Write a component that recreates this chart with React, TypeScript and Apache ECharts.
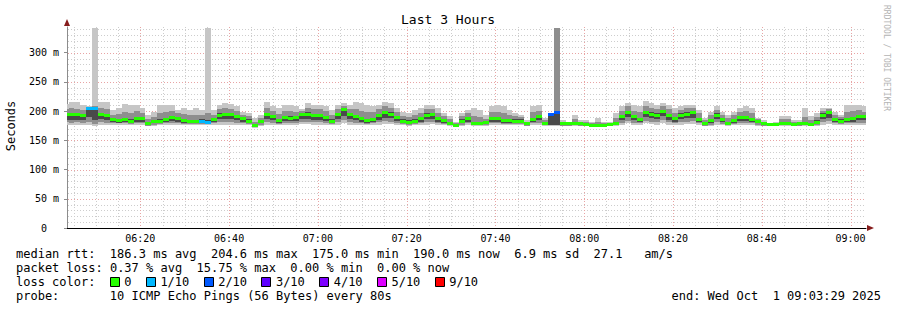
import React, { useEffect, useRef } from 'react';
import * as echarts from 'echarts';

// ---------- data ----------
const TITLE = 'Last 3 Hours';
const START_MIN_OF_DAY = 6 * 60 + 3 + 29 / 60; // 06:03:29
const SPAN_MINUTES = 180;
const STEP_MINUTES = 80 / 60; // 80 s steps
const STEP_PHASE = -0.74; // first step starts before the window
const Y_MAX = 344;

const xTickLabels = ['06:20', '06:40', '07:00', '07:20', '07:40', '08:00', '08:20', '08:40', '09:00'];
const yTickValues = [0, 50, 100, 150, 200, 250, 300];

const median = [
  195, 195, 194, 193, 204, 204, 195, 192, 185, 184, 186, 183, 187, 187, 178, 182, 182, 185, 189, 187, 184, 182, 182, 183, 181,
  185, 193, 194, 194, 191, 187, 183, 175, 182, 194, 190, 184, 189, 188, 189, 194, 195, 192, 192, 189, 183, 194, 202, 194, 190,
  187, 184, 186, 192, 197, 195, 189, 183, 181, 183, 187, 193, 194, 187, 184, 179, 175, 183, 187, 179, 179, 180, 187, 187, 184,
  184, 183, 183, 178, 186, 190, 179, 194, 197, 178, 178, 179, 178, 177, 176, 176, 176, 177, 179, 190, 198, 190, 186, 198, 195,
  193, 199, 192, 187, 193, 195, 197, 186, 178, 184, 193, 185, 179, 184, 189, 189, 186, 182, 178, 177, 177, 179, 179, 177, 178,
  179, 177, 181, 193, 197, 186, 183, 186, 187, 190, 190,
];
// loss in tenths of the 10 pings
const loss = [
  0, 0, 0, 0, 1, 1, 0, 0, 0, 0, 0, 0, 0, 0, 0, 0, 0, 0, 0, 0, 0, 0, 0, 1, 1,
  0, 0, 0, 0, 0, 0, 0, 0, 0, 0, 0, 0, 0, 0, 0, 0, 0, 0, 0, 0, 0, 0, 0, 0, 0,
  0, 0, 0, 0, 0, 0, 0, 0, 0, 0, 0, 0, 0, 0, 0, 0, 0, 0, 0, 0, 0, 0, 0, 0, 0,
  0, 0, 0, 0, 0, 0, 0, 2, 2, 0, 0, 0, 0, 0, 0, 0, 0, 0, 0, 0, 0, 0, 0, 0, 0,
  0, 0, 0, 0, 0, 0, 0, 0, 0, 0, 0, 0, 0, 0, 0, 0, 0, 0, 0, 0, 0, 0, 0, 0, 0,
  0, 0, 0, 0, 0, 0, 0, 0, 0, 0, 0,
];
const pingMin = [
  177, 176, 177, 176, 177, 175, 177, 176, 176, 176, 176, 176, 177, 177, 174, 175, 176, 176, 177, 177, 176, 176, 176, 177, 176,
  176, 177, 177, 177, 177, 176, 176, 172, 175, 177, 177, 176, 177, 177, 177, 178, 178, 177, 177, 177, 176, 177, 179, 177, 177,
  176, 176, 176, 177, 178, 178, 177, 176, 175, 176, 176, 177, 178, 177, 176, 174, 173, 175, 176, 175, 175, 175, 176, 176, 176,
  176, 176, 176, 174, 176, 177, 175, 175, 175, 174, 174, 175, 174, 174, 174, 174, 174, 174, 175, 177, 179, 177, 176, 179, 178,
  177, 179, 177, 177, 177, 178, 178, 176, 174, 175, 177, 176, 175, 176, 177, 177, 176, 175, 174, 174, 174, 175, 175, 174, 174,
  175, 174, 175, 177, 178, 176, 176, 176, 176, 177, 176,
];
const pingMax = [
  212, 216, 215, 211, 208, 343, 216, 215, 202, 205, 212, 211, 211, 205, 194, 199, 211, 211, 211, 202, 205, 202, 205, 202, 343,
  202, 211, 214, 212, 208, 199, 197, 188, 194, 215, 208, 205, 211, 211, 208, 204, 214, 211, 211, 208, 202, 211, 214, 211, 215,
  214, 211, 208, 211, 215, 214, 205, 199, 197, 202, 205, 211, 211, 205, 197, 191, 182, 197, 202, 205, 202, 194, 208, 211, 208,
  202, 197, 194, 185, 208, 211, 188, 197, 343, 185, 180, 194, 185, 185, 182, 188, 182, 182, 197, 208, 214, 211, 208, 217, 214,
  211, 214, 211, 205, 208, 211, 211, 202, 188, 199, 208, 199, 194, 199, 205, 208, 205, 188, 185, 180, 182, 191, 191, 185, 185,
  205, 191, 197, 205, 206, 199, 194, 210, 211, 211, 208,
];
const midLow = [
  181, 180, 181, 180, 181, 178, 181, 180, 179, 179, 179, 178, 180, 180, 175, 177, 178, 179, 180, 180, 178, 178, 178, 178, 178,
  179, 181, 182, 181, 180, 179, 178, 173, 177, 181, 180, 178, 180, 180, 180, 182, 182, 181, 181, 180, 178, 181, 184, 181, 180,
  179, 178, 179, 181, 183, 182, 180, 178, 177, 178, 179, 181, 182, 180, 178, 176, 174, 177, 179, 176, 176, 177, 179, 179, 178,
  178, 178, 178, 175, 179, 180, 176, 176, 176, 175, 175, 176, 175, 175, 175, 175, 175, 175, 176, 180, 183, 180, 179, 183, 182,
  181, 184, 181, 180, 181, 182, 183, 179, 175, 177, 181, 178, 176, 178, 180, 180, 179, 177, 175, 175, 175, 176, 176, 175, 175,
  176, 175, 177, 181, 183, 179, 178, 179, 179, 180, 179,
];
const midHigh = [
  204, 205, 204, 202, 206, 208, 206, 204, 194, 195, 198, 196, 200, 197, 186, 190, 196, 198, 201, 196, 195, 193, 194, 194, 196,
  194, 203, 205, 204, 200, 194, 191, 182, 189, 205, 200, 195, 201, 200, 199, 201, 206, 203, 203, 200, 194, 204, 209, 204, 203,
  201, 198, 198, 203, 208, 206, 199, 192, 190, 193, 197, 203, 204, 197, 192, 186, 179, 191, 196, 191, 190, 187, 198, 199, 196,
  194, 191, 190, 182, 198, 201, 185, 196, 343, 182, 179, 187, 182, 181, 180, 182, 180, 180, 189, 200, 208, 201, 198, 209, 206,
  203, 208, 203, 197, 202, 205, 206, 196, 184, 193, 202, 193, 188, 193, 199, 200, 197, 186, 182, 179, 180, 186, 186, 181, 182,
  190, 184, 190, 201, 204, 194, 190, 199, 200, 202, 198,
];
const coreLow = [
  185, 184, 185, 184, 190, 184, 186, 184, 181, 180, 181, 180, 182, 182, 176, 179, 179, 181, 183, 182, 180, 179, 179, 180, 179,
  181, 186, 187, 186, 184, 182, 180, 174, 179, 186, 184, 180, 183, 183, 183, 186, 187, 185, 185, 183, 180, 186, 192, 186, 184,
  182, 180, 181, 185, 189, 188, 183, 180, 178, 180, 182, 186, 186, 182, 180, 177, 174, 179, 182, 177, 177, 178, 182, 182, 180,
  180, 180, 180, 176, 181, 184, 177, 176, 176, 176, 176, 177, 176, 175, 175, 175, 175, 175, 177, 184, 190, 184, 181, 190, 188,
  186, 191, 185, 182, 186, 188, 189, 181, 176, 180, 186, 181, 177, 180, 183, 183, 181, 179, 176, 175, 175, 177, 177, 175, 176,
  177, 175, 178, 186, 189, 181, 180, 181, 182, 184, 184,
];
const coreHigh = [
  197, 197, 196, 195, 205, 205, 197, 195, 188, 187, 189, 186, 190, 190, 181, 185, 186, 188, 192, 190, 187, 185, 185, 186, 184,
  188, 196, 197, 196, 193, 190, 186, 178, 185, 197, 193, 187, 192, 191, 192, 197, 198, 195, 195, 192, 186, 197, 204, 197, 193,
  190, 187, 189, 195, 200, 198, 192, 186, 184, 186, 190, 196, 197, 190, 187, 182, 177, 186, 190, 182, 182, 183, 190, 190, 187,
  187, 186, 186, 180, 189, 193, 182, 194, 197, 180, 179, 182, 180, 179, 178, 178, 178, 179, 182, 193, 201, 193, 189, 201, 198,
  196, 202, 195, 190, 196, 198, 200, 189, 181, 187, 196, 188, 182, 187, 192, 192, 189, 185, 180, 179, 179, 182, 182, 179, 180,
  182, 179, 184, 196, 200, 189, 186, 189, 190, 193, 193,
];

const lossLegend = [
  { tenths: 0, label: '0', color: '#26ff00' },
  { tenths: 1, label: '1/10', color: '#00b8ff' },
  { tenths: 2, label: '2/10', color: '#0059ff' },
  { tenths: 3, label: '3/10', color: '#5e00ff' },
  { tenths: 4, label: '4/10', color: '#7e00ff' },
  { tenths: 5, label: '5/10', color: '#dd00ff' },
  { tenths: 9, label: '9/10', color: '#ff0000' },
];

const statsLine = 'median rtt:  186.3 ms avg  204.6 ms max  175.0 ms min  190.0 ms now  6.9 ms sd  27.1   am/s';
const lossLine = 'packet loss: 0.37 % avg  15.75 % max  0.00 % min  0.00 % now';
const probeLine = 'probe:       10 ICMP Echo Pings (56 Bytes) every 80s';
const endText = 'end: Wed Oct  1 09:03:29 2025';
const watermark = 'RRDTOOL / TOBI OETIKER';

// ---------- styling ----------
const MONO = '"DejaVu Sans Mono", "Liberation Mono", monospace';
const CHAR_W = 7.22;
const TEXT_X = 16;
const SMOKE_OUTER = '#c6c6c6';
const SMOKE_MID = '#8e8e8e';
const SMOKE_CORE = '#4a4a4a';
const GRID_MINOR = '#cdcdcd';
const GRID_MAJOR = '#e8a4a4';
const ARROW = '#861c1c';

const toRel = (hhmm: string) => {
  const [h, m] = hhmm.split(':').map(Number);
  return h * 60 + m - START_MIN_OF_DAY;
};
const xTickPos = xTickLabels.map(toRel);

function lossColor(t: number) {
  let c = lossLegend[0].color;
  for (const e of lossLegend) if (t >= e.tenths) c = e.color;
  return c;
}

function chunks(line: string) {
  const out: { col: number; text: string }[] = [];
  const re = /\S+(?: \S+)*/g;
  let m: RegExpExecArray | null;
  while ((m = re.exec(line))) out.push({ col: m.index, text: m[0] });
  return out;
}

function textLine(line: string, y: number) {
  return chunks(line).map((c) => ({
    type: 'text',
    x: TEXT_X + c.col * CHAR_W,
    y,
    silent: true,
    style: { text: c.text, font: `12px ${MONO}`, fill: '#000', textVerticalAlign: 'middle' },
  }));
}

export default function App() {
  const ref = useRef<HTMLDivElement>(null);
  useEffect(() => {
    if (!ref.current) return;
    const chart = echarts.init(ref.current, undefined, { renderer: 'svg' });

    const smokeData = median.map((m, i) => [
      (i + STEP_PHASE) * STEP_MINUTES,
      (i + 1 + STEP_PHASE) * STEP_MINUTES,
      pingMin[i], midLow[i], coreLow[i], coreHigh[i], midHigh[i], pingMax[i], m, loss[i],
    ]);

    const hLines: number[][] = [];
    for (let v = 10; v < Y_MAX; v += 10) hLines.push([0, v]);
    const vLines: number[][] = [];
    const firstFive = Math.ceil(START_MIN_OF_DAY / 5) * 5;
    for (let t = firstFive; t < START_MIN_OF_DAY + SPAN_MINUTES; t += 5) vLines.push([t - START_MIN_OF_DAY, t]);

    const legendY = [254, 268, 282, 296];
    const graphic: any[] = [
      { type: 'text', x: 448, y: 19, silent: true, style: { text: TITLE, font: `13px ${MONO}`, fill: '#000', textAlign: 'center', textVerticalAlign: 'middle' } },
      { type: 'text', x: 11, y: 126, rotation: Math.PI / 2, silent: true, style: { text: 'Seconds', font: `12px ${MONO}`, fill: '#000', textAlign: 'center', textVerticalAlign: 'middle' } },
      { type: 'text', x: 886, y: 5, rotation: -Math.PI / 2, silent: true, style: { text: watermark, font: `8px ${MONO}`, fill: '#b4b4b4', textAlign: 'left', textVerticalAlign: 'middle' } },
      { type: 'line', silent: true, shape: { x1: 65, y1: 228.5, x2: 67, y2: 228.5 }, style: { stroke: '#000', lineWidth: 1 } },
      { type: 'polygon', silent: true, shape: { points: [[64, 26], [70, 26], [67, 19]] }, style: { fill: ARROW } },
      { type: 'polygon', silent: true, shape: { points: [[867, 225], [867, 231], [874, 228]] }, style: { fill: ARROW } },
      ...textLine(statsLine, legendY[0]),
      ...textLine(lossLine, legendY[1]),
      ...textLine('loss color:', legendY[2]),
      ...textLine(probeLine, legendY[3]),
      { type: 'text', x: 881, y: legendY[3], silent: true, style: { text: endText.replace('  ', '\u00a0\u00a0'), font: `12px ${MONO}`, fill: '#000', textAlign: 'right', textVerticalAlign: 'middle' } },
    ];
    let col = 13;
    lossLegend.forEach((e) => {
      const x = TEXT_X + col * CHAR_W;
      graphic.push({ type: 'rect', silent: true, shape: { x: Math.round(x) + 0.5, y: legendY[2] - 4.5, width: 9, height: 9 }, style: { fill: e.color, stroke: '#000', lineWidth: 1 } });
      graphic.push({ type: 'text', x: TEXT_X + (col + 2) * CHAR_W, y: legendY[2], silent: true, style: { text: e.label, font: `12px ${MONO}`, fill: '#000', textVerticalAlign: 'middle' } });
      col += 2 + e.label.length + 2;
    });

    const option: any = {
      animation: false,
      backgroundColor: '#ffffff',
      grid: { left: 67, right: 31, top: 27, bottom: 82, containLabel: false },
      xAxis: {
        type: 'value', min: 0, max: SPAN_MINUTES,
        axisLine: { show: true, lineStyle: { color: '#000', width: 1 } },
        axisTick: { show: false },
        splitLine: { show: false },
        axisLabel: {
          customValues: xTickPos,
          formatter: (v: number) => {
            let best = 0;
            xTickPos.forEach((p, i) => { if (Math.abs(p - v) < Math.abs(xTickPos[best] - v)) best = i; });
            return xTickLabels[best];
          },
          fontFamily: MONO, fontSize: 10, color: '#000', margin: 5,
        },
      },
      yAxis: {
        type: 'value', min: 0, max: Y_MAX,
        axisLine: { show: true, lineStyle: { color: '#8c8c8c', width: 1 } },
        axisTick: { show: true, customValues: yTickValues, length: 3, lineStyle: { color: '#8c8c8c' } },
        splitLine: { show: false },
        axisLabel: {
          customValues: yTickValues,
          formatter: (v: number) => (v === 0 ? '{z|0}' : `${v} m`),
          rich: { z: { padding: [0, 12, 0, 0], fontFamily: MONO, fontSize: 10, color: '#000' } },
          fontFamily: MONO, fontSize: 10, color: '#000', margin: 8,
        },
      },
      series: [
        {
          type: 'custom', silent: true, z: 1,
          data: hLines,
          renderItem: (params: any, api: any) => {
            const v = api.value(1);
            const cs = params.coordSys;
            const y = Math.round(api.coord([0, v])[1]) + 0.5;
            return { type: 'line', shape: { x1: cs.x + 1, y1: y, x2: cs.x + cs.width, y2: y }, style: { stroke: v % 50 === 0 ? GRID_MAJOR : GRID_MINOR, lineWidth: 1, lineDash: [1, 2] } };
          },
        },
        {
          type: 'custom', silent: true, z: 1,
          data: vLines,
          renderItem: (params: any, api: any) => {
            const t = api.value(0);
            const tod = api.value(1);
            const cs = params.coordSys;
            const x = Math.round(api.coord([t, 0])[0]) + 0.5;
            return { type: 'line', shape: { x1: x, y1: cs.y, x2: x, y2: cs.y + cs.height }, style: { stroke: Math.round(tod) % 20 === 0 ? GRID_MAJOR : GRID_MINOR, lineWidth: 1, lineDash: [1, 2] } };
          },
        },
        {
          type: 'custom', silent: true, z: 3,
          data: smokeData,
          encode: { x: [0, 1], y: [2, 7] },
          renderItem: (params: any, api: any) => {
            const a = Math.max(0, api.value(0));
            const b = Math.min(SPAN_MINUTES, api.value(1));
            const x0 = Math.round(api.coord([a, 0])[0]);
            const x1 = Math.round(api.coord([b, 0])[0]);
            const yv = (v: number) => Math.round(api.coord([a, v])[1]);
            const band = (lo: number, hi: number, fill: string) => ({
              type: 'rect', shape: { x: x0, y: yv(hi), width: x1 - x0, height: yv(lo) - yv(hi) }, style: { fill },
            });
            const ym = api.coord([a, api.value(8)])[1];
            return {
              type: 'group',
              children: [
                band(api.value(2), api.value(7), SMOKE_OUTER),
                band(api.value(3), api.value(6), SMOKE_MID),
                band(api.value(4), api.value(5), SMOKE_CORE),
                { type: 'rect', shape: { x: x0, y: Math.round(ym - 1.5), width: x1 - x0, height: 3 }, style: { fill: lossColor(api.value(9)) } },
              ],
            };
          },
        },
      ],
      graphic,
    };
    chart.setOption(option);
    return () => chart.dispose();
  }, []);
  return <div ref={ref} style={{ position: 'fixed', left: 0, top: 0, width: 897, height: 310 }} />;
}
